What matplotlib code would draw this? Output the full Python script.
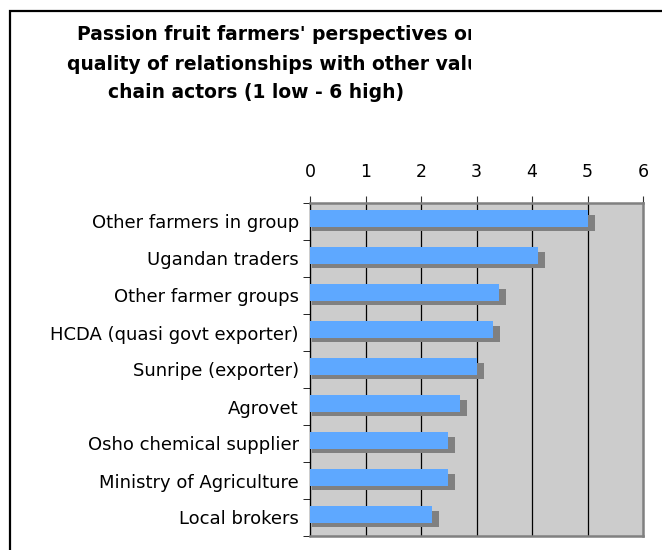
import numpy as np
import matplotlib
matplotlib.use("Agg")
import matplotlib.pyplot as plt
from matplotlib.patches import Rectangle
from matplotlib.transforms import Bbox

actors = ["Other farmers in group", "Ugandan traders", "Other farmer groups",
          "HCDA (quasi govt exporter)", "Sunripe (exporter)", "Agrovet",
          "Osho chemical supplier", "Ministry of Agriculture", "Local brokers"]
scores = [5.0, 4.1, 3.4, 3.3, 3.0, 2.7, 2.48, 2.48, 2.2]
xticks = [0, 1, 2, 3, 4, 5, 6]
title_lines = ["Passion fruit farmers' perspectives on",
               "quality of relationships with other value",
               "chain actors (1 low - 6 high)"]

W, H = 662, 550
fig = plt.figure(figsize=(W / 100, H / 100), dpi=100)

# outer frame (runs off the right and bottom edge)
fig.add_artist(Rectangle((10 / W, -0.05), 1.1, (H - 11) / H + 0.05,
                         transform=fig.transFigure, fill=False,
                         edgecolor="black", linewidth=1.6))

# title, clipped on the right like the original
clip = Bbox([[0, 0], [471, H]])
for txt, x0, yc in zip(title_lines, [77, 67, 108], [35, 64, 93]):
    t = fig.text(x0 / W, 1 - yc / H, txt, ha="left", va="center",
                 fontsize=13.5, fontweight="bold", family="DejaVu Sans")
    t.set_clip_box(clip)
    t.set_clip_on(True)

ax = fig.add_axes([310 / W, 14 / H, 333 / W, 333 / H])
ax.set_facecolor("#CCCCCC")

y = np.arange(len(actors))
ax.barh(y + 0.04, np.array(scores) + 0.09, height=0.41, left=0.04,
        color="#808080", zorder=2)
ax.barh(y - 0.08, scores, height=0.46, color="#5EA8FF", zorder=3)

ax.set_xlim(0, 6)
ax.set_ylim(len(actors) - 0.5, -0.5)
for v in xticks[1:-1]:
    ax.axvline(v, color="black", linewidth=0.9, zorder=1)

ax.xaxis.tick_top()
ax.set_xticks(xticks)
ax.set_xticklabels([str(v) for v in xticks])
ax.tick_params(axis="x", direction="out", length=5, pad=11, labelsize=12.5,
               color="#333333")

ax.set_yticks(y)
ax.set_yticklabels(actors)
ax.set_yticks(np.arange(len(actors) + 1) - 0.5, minor=True)
ax.tick_params(axis="y", which="major", length=0, pad=8, labelsize=13)
ax.tick_params(axis="y", which="minor", direction="out", length=5,
               color="black")

for s in ["top", "right", "bottom"]:
    ax.spines[s].set_color("#808080")
    ax.spines[s].set_linewidth(1.8)
ax.spines["left"].set_color("black")
ax.spines["left"].set_linewidth(1.0)

fig.savefig("out.png", dpi=100)
